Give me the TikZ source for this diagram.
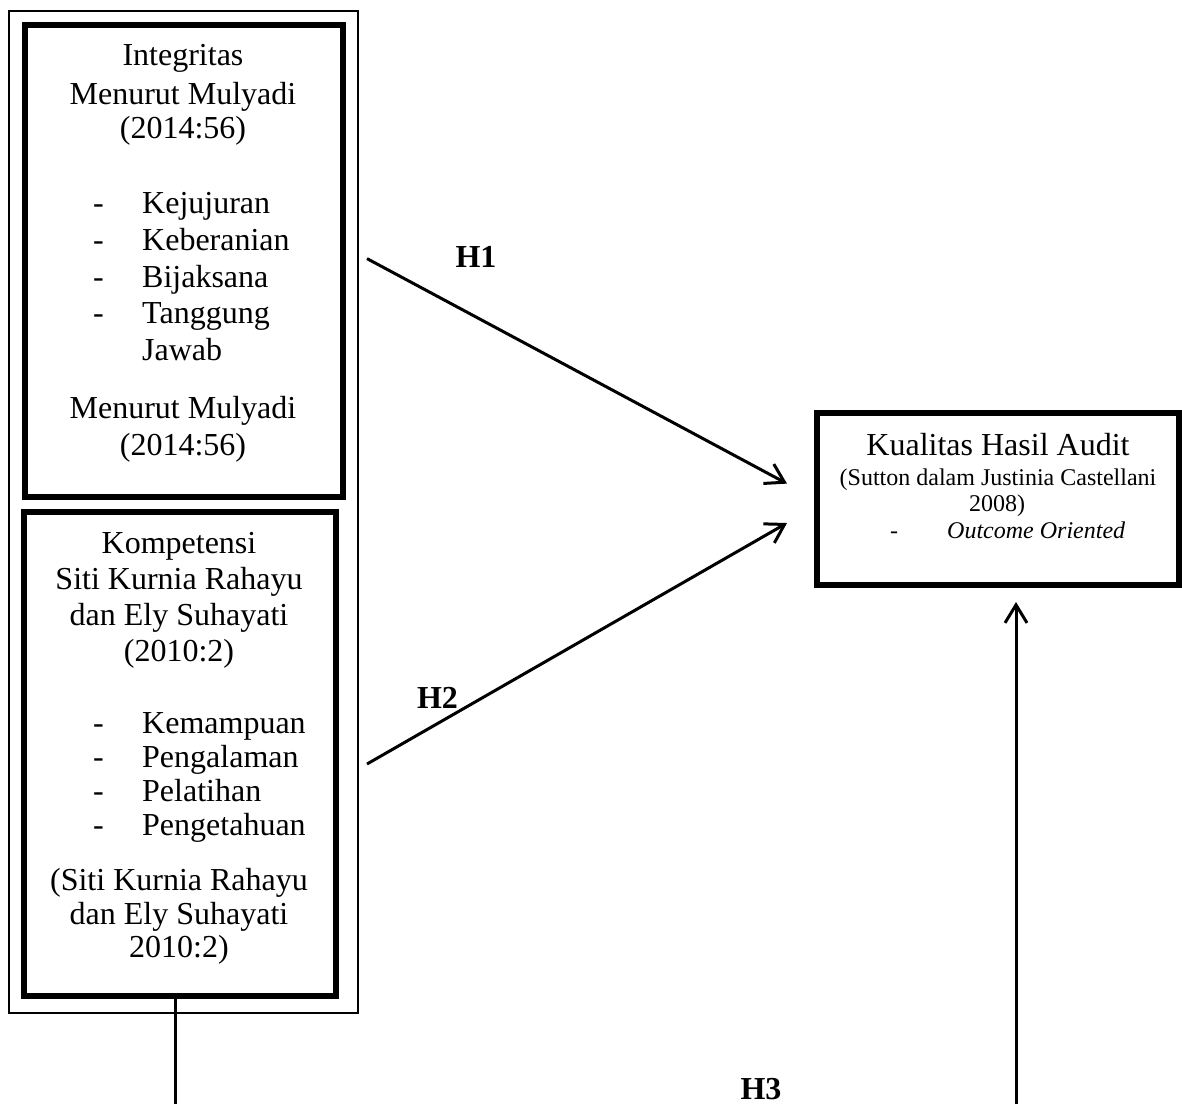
\documentclass[tikz,border=0pt]{standalone}
\usepackage{fontspec}
\setmainfont{Liberation Serif}
\usetikzlibrary{arrows.meta}
\begin{document}
\begin{tikzpicture}[x=1pt,y=-1pt,
  big/.style={anchor=base,inner sep=0pt,font=\fontsize{32}{38}\selectfont},
  bigl/.style={anchor=base west,inner sep=0pt,font=\fontsize{32}{38}\selectfont},
  sm/.style={anchor=base,inner sep=0pt,font=\fontsize{24}{28}\selectfont},
  sml/.style={anchor=base west,inner sep=0pt,font=\fontsize{24}{28}\selectfont},
  hlab/.style={anchor=base,inner sep=0pt,font=\bfseries\fontsize{32}{38}\selectfont},
  thickbox/.style={draw,line width=6pt,inner sep=0pt},
  thinbox/.style={draw,line width=2pt,inner sep=0pt},
  conn/.style={line width=3pt,-{Straight Barb[length=18pt,width=22pt]}},
  plain/.style={line width=3pt}]
\useasboundingbox (0,0) rectangle (1182,1104);

% boxes
\node[thinbox,minimum width=349pt,minimum height=1002pt] (outer) at (183.5,512) {};
\node[thickbox,minimum width=318pt,minimum height=471.5pt] (integ) at (183.5,260.75) {};
\node[thickbox,minimum width=311.5pt,minimum height=484.5pt] (komp) at (179.75,753.75) {};
\node[thickbox,minimum width=362.5pt,minimum height=172.5pt] (kual) at (997.75,498.75) {};

% Integritas text
\node[big] (i1) at (183,65.5) {Integritas};
\node[big] (i2) at (183,104) {Menurut Mulyadi};
\node[big] (i3) at (183,138) {(2014:56)};
\node[bigl] (id1) at (93,213) {-};
\node[bigl] (it1) at (142,213) {Kejujuran};
\node[bigl] (id2) at (93,250) {-};
\node[bigl] (it2) at (142,250) {Keberanian};
\node[bigl] (id3) at (93,287) {-};
\node[bigl] (it3) at (142,287) {Bijaksana};
\node[bigl] (id4) at (93,323) {-};
\node[bigl] (it4) at (142,323) {Tanggung};
\node[bigl] (it5) at (142,360) {Jawab};
\node[big] (i4) at (183,418) {Menurut Mulyadi};
\node[big] (i5) at (183,455) {(2014:56)};

% Kompetensi text
\node[big] (k1) at (179,553.5) {Kompetensi};
\node[big] (k2) at (179,589.5) {Siti Kurnia Rahayu};
\node[big] (k3) at (179,625) {dan Ely Suhayati};
\node[big] (k4) at (179,661) {(2010:2)};
\node[bigl] (kd1) at (93,733.5) {-};
\node[bigl] (kt1) at (142,733.5) {Kemampuan};
\node[bigl] (kd2) at (93,767.5) {-};
\node[bigl] (kt2) at (142,767.5) {Pengalaman};
\node[bigl] (kd3) at (93,801) {-};
\node[bigl] (kt3) at (142,801) {Pelatihan};
\node[bigl] (kd4) at (93,835) {-};
\node[bigl] (kt4) at (142,835) {Pengetahuan};
\node[big] (k5) at (179,890) {(Siti Kurnia Rahayu};
\node[big] (k6) at (179,924) {dan Ely Suhayati};
\node[big] (k7) at (179,957.5) {2010:2)};

% Kualitas text
\node[big] (q1) at (998,455) {Kualitas Hasil Audit};
\node[sm] (q2) at (998,485) {(Sutton dalam Justinia Castellani};
\node[sm] (q3) at (997,511.5) {2008)};
\node[sml] (qd) at (890,538) {-};
\node[sml] (qt) at (947,538) {\itshape Outcome Oriented};

% connectors
\coordinate (a1s) at (367,258.6);
\coordinate (a1e) at (787,483.6);
\coordinate (a2s) at (367,764);
\coordinate (a2e) at (787,523);
\coordinate (s1) at (175,998);
\coordinate (s2) at (175,1104);
\coordinate (r1) at (1016,1104);
\coordinate (r2) at (1016,602);
\draw[conn] (a1s) -- (a1e);
\draw[conn] (a2s) -- (a2e);
\draw[plain] (s1) -- (s2);
\draw[conn] (r1) -- (r2);

% labels
\node[hlab] (h1) at (476,267.5) {H1};
\node[hlab] (h2) at (437.5,708.5) {H2};
\node[hlab] (h3) at (761,1099) {H3};
\end{tikzpicture}
\end{document}
